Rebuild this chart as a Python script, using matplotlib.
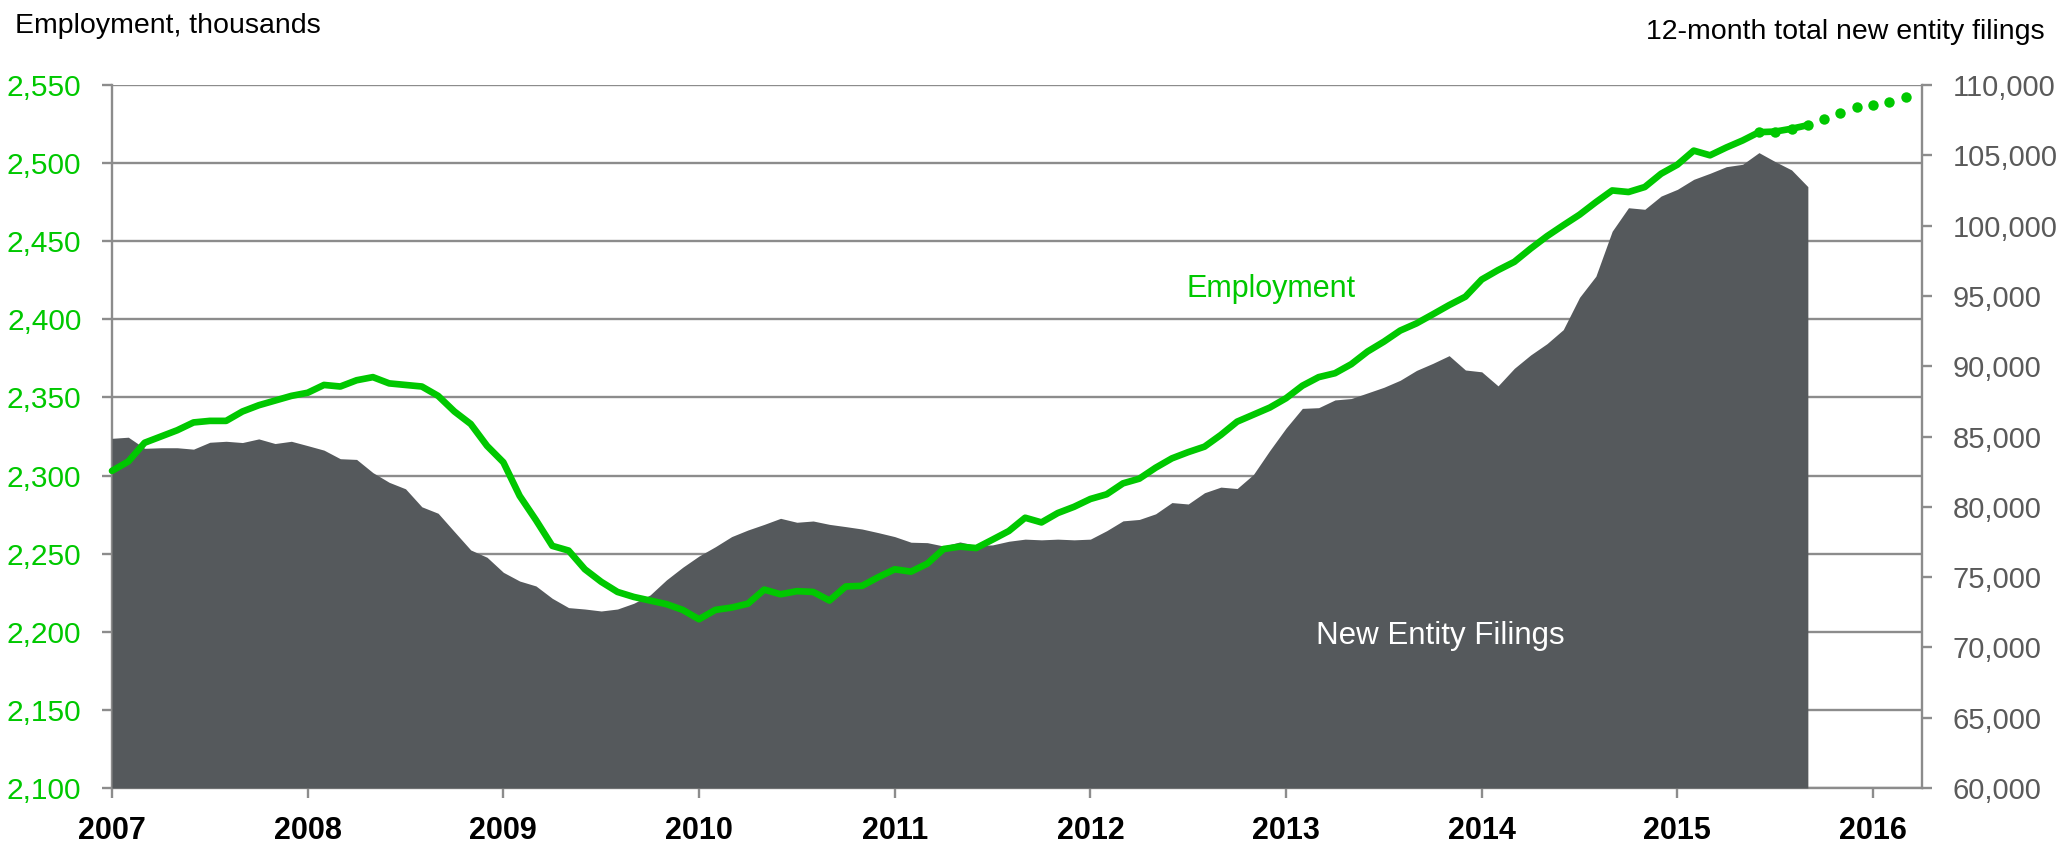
import matplotlib
matplotlib.use("Agg")
import matplotlib.pyplot as plt
import numpy as np
from matplotlib.ticker import FuncFormatter

# ---------------- data ----------------
start_year = 2007
employment = [
    2303, 2309, 2321, 2325, 2329, 2334, 2335, 2335, 2341, 2345, 2348, 2351,
    2353, 2358, 2357, 2361, 2363, 2359, 2358, 2357, 2351, 2341, 2333, 2319,
    2308.5, 2287, 2271.5, 2255, 2252, 2240, 2232, 2225.5, 2222.3, 2220, 2217.7, 2214,
    2208, 2214, 2215.5, 2218, 2227, 2224, 2226, 2225.5, 2220, 2229, 2229.4, 2235,
    2240, 2238.5, 2243.6, 2253, 2254.5, 2253.6, 2259, 2264.5, 2273, 2270, 2276, 2280,
    2285, 2288, 2295, 2298, 2305, 2311, 2315, 2318.5, 2326, 2334.5, 2339, 2343.5,
    2349.5, 2357.5, 2363, 2365.5, 2371.3, 2379.4, 2385.7, 2392.8, 2397.4, 2403.2, 2409.1, 2414.5,
    2425.5, 2431.5, 2436.8, 2445.3, 2453.2, 2460.2, 2467, 2475, 2482.5, 2481.5, 2484.7, 2493.2,
    2499, 2508, 2505, 2510, 2514.5, 2519.8, 2520.2, 2522, 2524.3,
]
employment_forecast = [2528.3, 2532.3, 2535.7, 2537.2, 2539.4, 2542.1]
forecast_overlap = 4  # last solid months also shown with dots

filings = [
    84870, 84950, 84160, 84200, 84200, 84100, 84590, 84660, 84570, 84830, 84500, 84660,
    84350, 84030, 83420, 83370, 82430, 81740, 81280, 80000, 79540, 78230, 76930, 76410,
    75340, 74720, 74370, 73490, 72830, 72730, 72590, 72730, 73140, 73730, 74800, 75700,
    76500, 77160, 77880, 78350, 78750, 79180, 78900, 78990, 78750, 78590, 78420, 78160,
    77880, 77480, 77450, 77210, 77500, 77240, 77290, 77550, 77700, 77650, 77700, 77650,
    77700, 78300, 79000, 79100, 79500, 80300, 80200, 81000, 81400, 81300, 82300, 84000,
    85600, 87000, 87050, 87600, 87700, 88100, 88500, 89000, 89700, 90200, 90750, 89730,
    89600, 88600, 89850, 90800, 91600, 92600, 94900, 96400, 99600, 101270, 101160, 102100,
    102580, 103290, 103720, 104190, 104360, 105190, 104550, 103960, 102770,
]
year_ticks = list(range(2007, 2017))
emp_ticks = list(range(2100, 2551, 50))
fil_ticks = list(range(60000, 110001, 5000))

# ---------------- style ----------------
GREEN = "#00c800"
AREA = "#55595c"
GRID = "#8c8c8c"
RGRAY = "#5a5a5a"
FONT = ["Liberation Sans", "DejaVu Sans"]
plt.rcParams["font.family"] = FONT

t = start_year + np.arange(len(employment)) / 12.0
t_f = start_year + np.arange(len(filings)) / 12.0
n_fc = len(employment_forecast)
t_fc = start_year + np.arange(len(employment) - forecast_overlap, len(employment) + n_fc) / 12.0
v_fc = employment[-forecast_overlap:] + employment_forecast

fig = plt.figure(figsize=(20.66, 8.51), dpi=100)
rect = [112 / 2066, 1 - 788 / 851, (1922 - 112) / 2066, (788 - 85) / 851]

# background axes: grid + left axis + x axis
axG = fig.add_axes(rect)
axG.set_xlim(2007, 2016.25)
axG.set_ylim(2100, 2550)
axG.set_yticks(emp_ticks)
axG.set_xticks(year_ticks)
axG.yaxis.set_major_formatter(FuncFormatter(lambda v, p: f"{int(v):,}"))
axG.grid(axis="y", color=GRID, linewidth=1.7)
axG.set_axisbelow(True)
for s in ["top", "right"]:
    axG.spines[s].set_visible(False)
for s in ["left", "bottom"]:
    axG.spines[s].set_color(GRID)
    axG.spines[s].set_linewidth(1.7)
axG.tick_params(axis="y", direction="out", length=7, width=1.7, color=GRID,
                labelcolor=GREEN, labelsize=21.5, pad=15)
axG.tick_params(axis="x", direction="out", length=7, width=1.7, color=GRID,
                labelcolor="black", labelsize=22, pad=13)
for lab in axG.get_xticklabels():
    lab.set_fontweight("bold")

# filings area on right axis
axF = axG.twinx()
axF.set_ylim(60000, 110000)
axF.set_yticks(fil_ticks)
axF.yaxis.set_major_formatter(FuncFormatter(lambda v, p: f"{int(v):,}"))
axF.patch.set_visible(False)
for s in ["top", "left", "bottom"]:
    axF.spines[s].set_visible(False)
axF.spines["right"].set_color(GRID)
axF.spines["right"].set_linewidth(1.7)
axF.tick_params(axis="y", direction="out", length=7, width=1.7, color=GRID,
                labelcolor=RGRAY, labelsize=21, pad=15)
axF.fill_between(t_f, 60000, filings, color=AREA, linewidth=0)
axF.text(2013.79, 70800, "New Entity Filings", color="white", fontsize=22.5,
         ha="center", va="center")

# employment line on top
axE = fig.add_axes(rect, sharex=axG)
axE.set_ylim(2100, 2550)
axE.axis("off")
axE.patch.set_visible(False)
axE.plot(t, employment, color=GREEN, linewidth=4.8, solid_joinstyle="round",
         solid_capstyle="round", clip_on=False)
axE.plot(t_fc, v_fc, linestyle="none", marker="o", markersize=7.5, color=GREEN,
         markeredgewidth=0, clip_on=False)
axE.text(2012.49, 2414, "Employment", color=GREEN, fontsize=22, ha="left", va="baseline")

# titles
fig.text(15 / 2066, 1 - 33 / 851, "Employment, thousands", fontsize=20.5,
         ha="left", va="baseline", color="black")
fig.text(2045 / 2066, 1 - 39 / 851, "12-month total new entity filings", fontsize=20.5,
         ha="right", va="baseline", color="black")

fig.savefig("out.png", dpi=100)
